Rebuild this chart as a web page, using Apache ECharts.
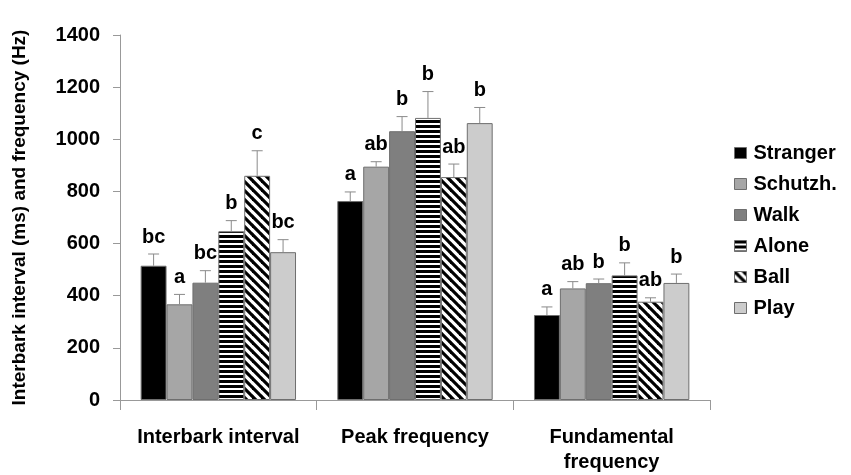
<!DOCTYPE html>
<html>
<head>
<meta charset="utf-8">
<script src="https://cdn.jsdelivr.net/npm/echarts@6/dist/echarts.min.js"></script>
<style>html,body{margin:0;padding:0;background:#fff}#c{width:851px;height:475px}</style>
</head>
<body>
<div id="c"></div>
<script>
const categories = ['Interbark interval', 'Peak frequency', 'Fundamental\nfrequency'];
const seriesNames = ['Stranger', 'Schutzh.', 'Walk', 'Alone', 'Ball', 'Play'];
const stranger = [515, 763, 326];
const schutzh = [367, 895, 428];
const walk = [450, 1031, 448];
const alone = [647, 1082, 478];
const ball = [860, 855, 377];
const play = [567, 1062, 449];
const strangerErr = [560, 798, 357];
const schutzhErr = [405, 914, 454];
const walkErr = [496, 1087, 464];
const aloneErr = [688, 1183, 526];
const ballErr = [956, 905, 392];
const playErr = [615, 1122, 483];
const strangerLetters = ['bc', 'a', 'a'];
const schutzhLetters = ['a', 'ab', 'ab'];
const walkLetters = ['bc', 'b', 'b'];
const aloneLetters = ['b', 'b', 'b'];
const ballLetters = ['c', 'ab', 'ab'];
const playLetters = ['bc', 'b', 'b'];
const yTicks = [0, 200, 400, 600, 800, 1000, 1200, 1400];

const values = [stranger, schutzh, walk, alone, ball, play];
const errs = [strangerErr, schutzhErr, walkErr, aloneErr, ballErr, playErr];
const letters = [strangerLetters, schutzhLetters, walkLetters, aloneLetters, ballLetters, playLetters];

function hStripes() {
  const c = document.createElement('canvas');
  c.width = 5; c.height = 5;
  const g = c.getContext('2d');
  g.fillStyle = '#fff'; g.fillRect(0, 0, 5, 5);
  g.fillStyle = '#000'; g.fillRect(0, 0, 5, 3);
  return c;
}
function dStripes() {
  const N = 9;
  const c = document.createElement('canvas');
  c.width = N; c.height = N;
  const g = c.getContext('2d');
  g.fillStyle = '#fff'; g.fillRect(0, 0, N, N);
  g.strokeStyle = '#000'; g.lineWidth = 3.2;
  for (let k = -1; k <= 1; k++) {
    g.beginPath();
    g.moveTo(k * N - 1, -1);
    g.lineTo(k * N + N + 1, N + 1);
    g.stroke();
  }
  return c;
}
const fills = ['#000000', '#a6a6a6', '#7f7f7f',
  { image: hStripes(), repeat: 'repeat' },
  { image: dStripes(), repeat: 'repeat' },
  '#cccccc'];

const GAP = 0.21;
const N = seriesNames.length;
const FONT = '"Liberation Sans", Arial, sans-serif';

const series = [];
seriesNames.forEach((name, i) => {
  series.push({
    name: name,
    type: 'bar',
    data: values[i],
    barGap: '0%',
    barCategoryGap: (GAP * 100) + '%',
    itemStyle: { color: fills[i], borderColor: '#6e6e6e', borderWidth: 1 },
    emphasis: { disabled: true },
    z: 2
  });
});
seriesNames.forEach((name, i) => {
  series.push({
    name: 'err' + i,
    type: 'custom',
    z: 5,
    silent: true,
    data: values[i].map((v, j) => [j, v, errs[i][j]]),
    renderItem: function (params, api) {
      const cat = api.value(0);
      const v = api.value(1);
      const e = api.value(2);
      const letter = letters[i][params.dataIndex];
      const base = api.coord([cat, v]);
      const top = api.coord([cat, e]);
      const catW = api.size([1, 0])[0];
      const groupW = catW * (1 - GAP);
      const barW = groupW / N;
      const x = base[0] - groupW / 2 + (i + 0.5) * barW;
      const cap = 5.5;
      return {
        type: 'group',
        children: [
          { type: 'line', shape: { x1: x, y1: base[1], x2: x, y2: top[1] }, style: { stroke: '#8a8a8a', lineWidth: 1 } },
          { type: 'line', shape: { x1: x - cap, y1: top[1], x2: x + cap, y2: top[1] }, style: { stroke: '#8a8a8a', lineWidth: 1 } },
          { type: 'text', style: { text: letter, x: x, y: top[1] - 7, align: 'center', verticalAlign: 'bottom', font: 'bold 20px ' + FONT, fill: '#000' } }
        ]
      };
    }
  });
});

const chart = echarts.init(document.getElementById('c'), null, { renderer: 'canvas' });
chart.setOption({
  animation: false,
  backgroundColor: '#fff',
  grid: { left: 120, right: 141, top: 35, bottom: 70, containLabel: false },
  legend: {
    orient: 'vertical',
    left: 729,
    top: 138,
    data: seriesNames,
    itemWidth: 12,
    itemHeight: 11,
    itemGap: 11,
    icon: 'rect',
    selectedMode: false,
    itemStyle: { borderColor: '#6e6e6e', borderWidth: 1 },
    textStyle: { fontFamily: FONT, fontWeight: 'bold', fontSize: 20, color: '#000', padding: [0, 0, 0, 2] }
  },
  xAxis: {
    type: 'category',
    data: categories,
    axisLine: { lineStyle: { color: '#999', width: 1 } },
    axisTick: { show: true, length: 10, lineStyle: { color: '#999' } },
    axisLabel: { margin: 25, fontFamily: FONT, fontWeight: 'bold', fontSize: 20, color: '#000', lineHeight: 25, interval: 0 }
  },
  yAxis: {
    type: 'value',
    min: yTicks[0],
    max: yTicks[yTicks.length - 1],
    interval: yTicks[1] - yTicks[0],
    name: 'Interbark interval (ms) and frequency (Hz)',
    nameLocation: 'middle',
    nameGap: 91,
    nameTextStyle: { fontFamily: FONT, fontWeight: 'bold', fontSize: 19, color: '#000' },
    axisLine: { show: true, lineStyle: { color: '#999', width: 1 } },
    axisTick: { show: true, length: 7, lineStyle: { color: '#999' } },
    splitLine: { show: false },
    axisLabel: { margin: 20, fontFamily: FONT, fontWeight: 'bold', fontSize: 20, color: '#000', formatter: function (v) { return String(v); } }
  },
  series: series
});
</script>
</body>
</html>
